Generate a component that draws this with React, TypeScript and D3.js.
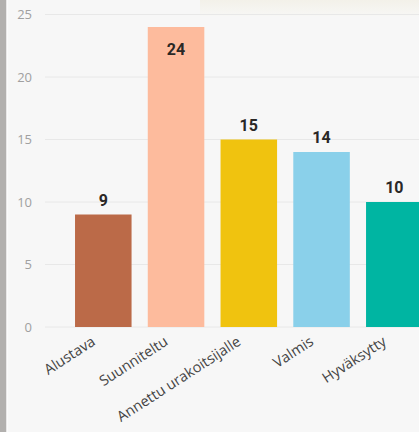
import React from "react";
import * as d3 from "d3";

const categories = ["Alustava", "Suunniteltu", "Annettu urakoitsijalle", "Valmis", "Hyväksytty"];
const values = [9, 24, 15, 14, 10];
const colors = ["#bb6a48", "#fdbb9d", "#f0c30f", "#8ad0ea", "#00b5a2"];
const yTicks = [0, 5, 10, 15, 20, 25];

const W = 419;
const H = 432;

export default function App() {
  const x = d3
    .scaleBand<string>()
    .domain(categories)
    .range([53.2, 444.4])
    .paddingInner(0.223)
    .paddingOuter(0.3);
  const y = d3.scaleLinear().domain([0, 25]).range([327, 14.5]);
  const bw = x.bandwidth();

  return (
    <svg
      width={W}
      height={H}
      style={{ position: "fixed", left: 0, top: 0, display: "block" }}
    >
      <defs>
        <linearGradient id="topband" x1="0" y1="0" x2="0" y2="1">
          <stop offset="0" stopColor="#f3f1e9" />
          <stop offset="1" stopColor="#f7f7f5" />
        </linearGradient>
      </defs>
      <rect x={0} y={0} width={W} height={H} fill="#f7f7f7" />
      <rect x={200} y={0} width={219} height={16} fill="url(#topband)" />
      <rect x={0} y={0} width={6.5} height={H} fill="#b2b0ae" />
      <rect x={6.5} y={0} width={1.5} height={H} fill="#fbfbfb" />

      {yTicks.map((t) => (
        <g key={t}>
          <line x1={45} x2={W} y1={y(t)} y2={y(t)} stroke="#e8e8e8" strokeWidth={1} />
          <text
            x={32}
            y={y(t)}
            dy="0.35em"
            textAnchor="end"
            fontFamily="'Open Sans', 'Noto Sans', sans-serif"
            fontSize={13}
            fill="#a0a0a0"
          >
            {t}
          </text>
        </g>
      ))}

      {categories.map((c, i) => {
        const bx = x(c)!;
        const by = y(values[i]);
        const inside = values[i] >= 20;
        return (
          <g key={c}>
            <rect x={bx} y={by} width={bw} height={y(0) - by} fill={colors[i]} />
            <text
              x={bx + bw / 2}
              y={inside ? by + 28 : by - 9}
              textAnchor="middle"
              fontFamily="Roboto, 'DejaVu Sans', sans-serif"
              fontWeight={700}
              fontSize={16}
              fill="#2a2826"
            >
              {values[i]}
            </text>
          </g>
        );
      })}

      {categories.map((c) => {
        const cx = x(c)! + bw / 2;
        return (
          <text
            key={"l" + c}
            transform={`translate(${cx - 7},${344}) rotate(-33)`}
            textAnchor="end"
            fontFamily="'Open Sans', 'Noto Sans', sans-serif"
            fontSize={14.5}
            fill="#444444"
          >
            {c}
          </text>
        );
      })}
    </svg>
  );
}
